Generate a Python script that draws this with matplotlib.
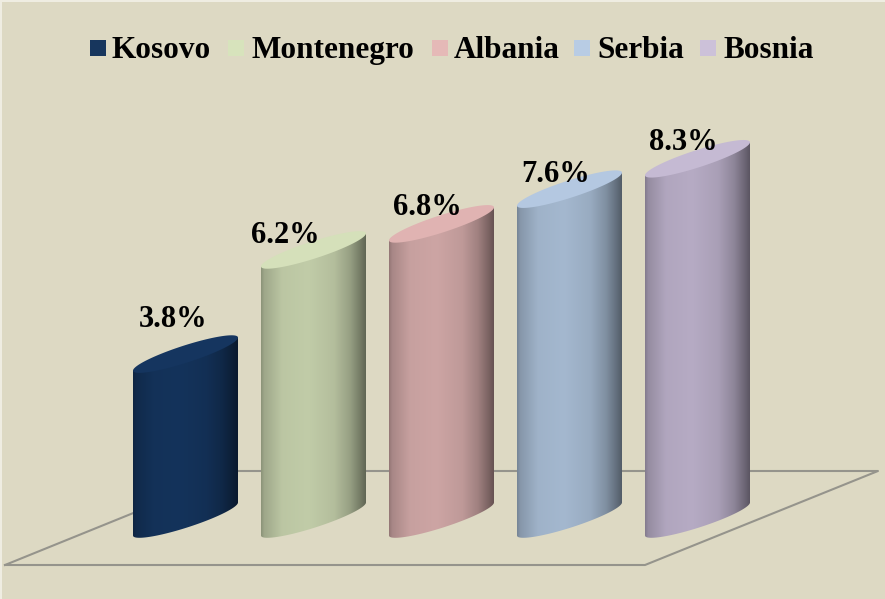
import numpy as np
import matplotlib
matplotlib.use("Agg")
import matplotlib.pyplot as plt
from matplotlib.patches import Polygon, Rectangle
from matplotlib.lines import Line2D

countries = ["Kosovo", "Montenegro", "Albania", "Serbia", "Bosnia"]
values = [3.8, 6.2, 6.8, 7.6, 8.3]
legend_colors = ["#17365D", "#D7E3BC", "#E5B9B7", "#B8CCE4", "#CCC1D9"]
side_colors = ["#14335B", "#C1CCA8", "#CDA5A4", "#A4B8CF", "#B6ABC4"]
lid_colors = ["#15355F", "#D5E0BA", "#E0B3B2", "#B4C8E1", "#C5BAD3"]

W, H = 885, 599
PITCH = 128.0     # px between bars
UNIT = 43.4       # px per percent
X0, Y0 = 185.5, 519.0  # pixel position of first bar's base centre

plt.rcParams["font.family"] = ["Liberation Serif", "DejaVu Serif"]

fig = plt.figure(figsize=(W / 100, H / 100), dpi=100, facecolor="#DDD9C3")
ax = fig.add_axes([0, 0, 1, 1])
xlim = (-X0 / PITCH, (W - X0) / PITCH)
ylim = ((Y0 - H) / UNIT, Y0 / UNIT)
ax.axis("off")


def px(x, y):
    """Pixel position in the picture to data units."""
    return (x - X0) / PITCH, (Y0 - y) / UNIT


# floor
floor = [px(5, 565), px(645, 565), px(878, 471), px(237, 471), px(5, 565)]
ax.add_line(Line2D([p[0] for p in floor], [p[1] for p in floor],
                   color="#95948C", lw=1.5, zorder=1))

# thin light edge of the slide on the left and top
fig.add_artist(Rectangle((0, 0), 2 / W, 1, transform=fig.transFigure,
                         facecolor="#EFEDE2", edgecolor="none"))
fig.add_artist(Rectangle((0, 1 - 2 / H), 1, 2 / H, transform=fig.transFigure,
                         facecolor="#EFEDE2", edgecolor="none"))

half_w = 52.5 / PITCH
tilt = 16.5 / UNIT
minor = 9.0 / UNIT
ts = np.linspace(np.pi, 2 * np.pi, 60)
shade_pos = [0, 0.03, 0.2, 0.45, 0.7, 0.85, 0.95, 1]
shade_val = [0.72, 0.82, 0.97, 1.0, 0.93, 0.78, 0.6, 0.5]
shade_x = np.linspace(0, 1, 256)
shade = np.interp(shade_x, shade_pos, shade_val)
label_offsets = [(-12, 35), (-28, 14), (-14, 16), (-14, 15), (-14, 16)]

for i, (v, side, lid) in enumerate(zip(values, side_colors, lid_colors)):
    ex = i + half_w * np.cos(ts)
    low = tilt * np.cos(ts) + minor * np.sin(ts)
    body = np.vstack([
        np.column_stack([ex, low]),
        [[i + half_w, v + tilt], [i - half_w, v - tilt]],
    ])
    clip = Polygon(body, closed=True, facecolor="none", edgecolor="none", zorder=2)
    ax.add_patch(clip)
    rgb = np.array(matplotlib.colors.to_rgb(side))
    img = (shade[None, :, None] * rgb[None, None, :]).clip(0, 1)
    im = ax.imshow(img, extent=(i - half_w, i + half_w, -1, v + 1),
                   aspect="auto", zorder=2, interpolation="bilinear")
    im.set_clip_path(clip)
    tt = np.linspace(0, 2 * np.pi, 120)
    lid_xy = np.column_stack([
        i + half_w * np.cos(tt),
        v + tilt * np.cos(tt) + minor * np.sin(tt),
    ])
    ax.add_patch(Polygon(lid_xy, closed=True, facecolor=lid, edgecolor="none", zorder=3))
    dx, dy = label_offsets[i]
    ax.annotate(f"{v}%", (i, v), xytext=(dx * 0.72, dy * 0.72),
                textcoords="offset points", ha="center", va="center",
                fontsize=22, fontweight="bold", color="black", zorder=4)

ax.set_xlim(*xlim)
ax.set_ylim(*ylim)

# legend placed by hand, the built-in one shifts the text with a descender
swatch_x = [90, 228, 432, 574, 700]
text_x = [112, 252, 454, 597, 723]
for name, c, sx, tx in zip(countries, legend_colors, swatch_x, text_x):
    fig.add_artist(Rectangle((sx / W, 1 - 56 / H), 16 / W, 16 / H,
                             transform=fig.transFigure, facecolor=c, edgecolor="none"))
    fig.text(tx / W, 1 - 58 / H, name, ha="left", va="baseline",
             fontsize=22.5, fontweight="bold", color="black")

fig.savefig("out.png", dpi=100, facecolor=fig.get_facecolor())
